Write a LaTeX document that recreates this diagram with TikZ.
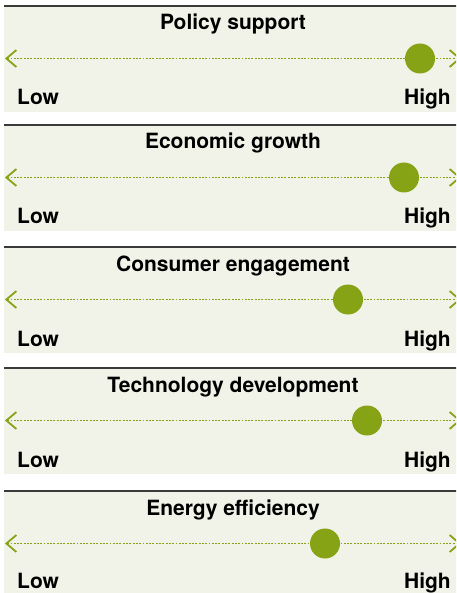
\documentclass[tikz,border=0pt]{standalone}
\usepackage{fontspec}
\setmainfont{TeX Gyre Heros}
\usetikzlibrary{arrows.meta}

\definecolor{leaf}{HTML}{86A316}
\definecolor{panelbg}{HTML}{F2F3E8}
\definecolor{rulegray}{HTML}{3A3A3A}

\tikzset{
  scalebar/.style={leaf, line width=1.9pt, dash pattern=on 1.9pt off 1.4pt,
    {Straight Barb[length=10pt,width=17pt,line width=1.8pt]}-{Straight Barb[length=10pt,width=17pt,line width=1.8pt]}},
  marker/.style={circle, fill=leaf, inner sep=0pt, minimum size=30pt},
  heading/.style={font=\bfseries\fontsize{21}{25}\selectfont, inner sep=0pt},
  endlabel/.style={font=\bfseries\fontsize{21}{25}\selectfont, inner sep=0pt},
}

\begin{document}
\begin{tikzpicture}[x=1pt,y=-1pt]
    \useasboundingbox (0,0) rectangle (456,593);
    \clip (0,0) rectangle (456,593);
    \foreach \ytop/\ttl/\pos [count=\i] in {6/Policy support/420,
        125/Economic growth/404, 247/Consumer engagement/348,
        368/Technology development/367, 491/Energy efficiency/325} {
      \pgfmathsetmacro\lowy{min(\ytop+99,588)}
      \fill[panelbg] (4,\ytop) rectangle (462,\ytop+106);
      \draw[rulegray, line width=1.5pt] (4,\ytop) -- (462,\ytop);
      \node[heading, anchor=base] (title-\i) at (233,\ytop+24) {\ttl};
      \coordinate (lend-\i) at (5,\ytop+52.5);
      \coordinate (rend-\i) at (461,\ytop+52.5);
      \draw[scalebar] (lend-\i) -- (rend-\i);
      \node[marker] (dot-\i) at (\pos,\ytop+52.5) {};
      \node[endlabel, anchor=base west] (low-\i) at (17,\lowy) {Low};
      \node[endlabel, anchor=base east] (high-\i) at (451,\lowy) {High};
    }
  \end{tikzpicture}
\end{document}
